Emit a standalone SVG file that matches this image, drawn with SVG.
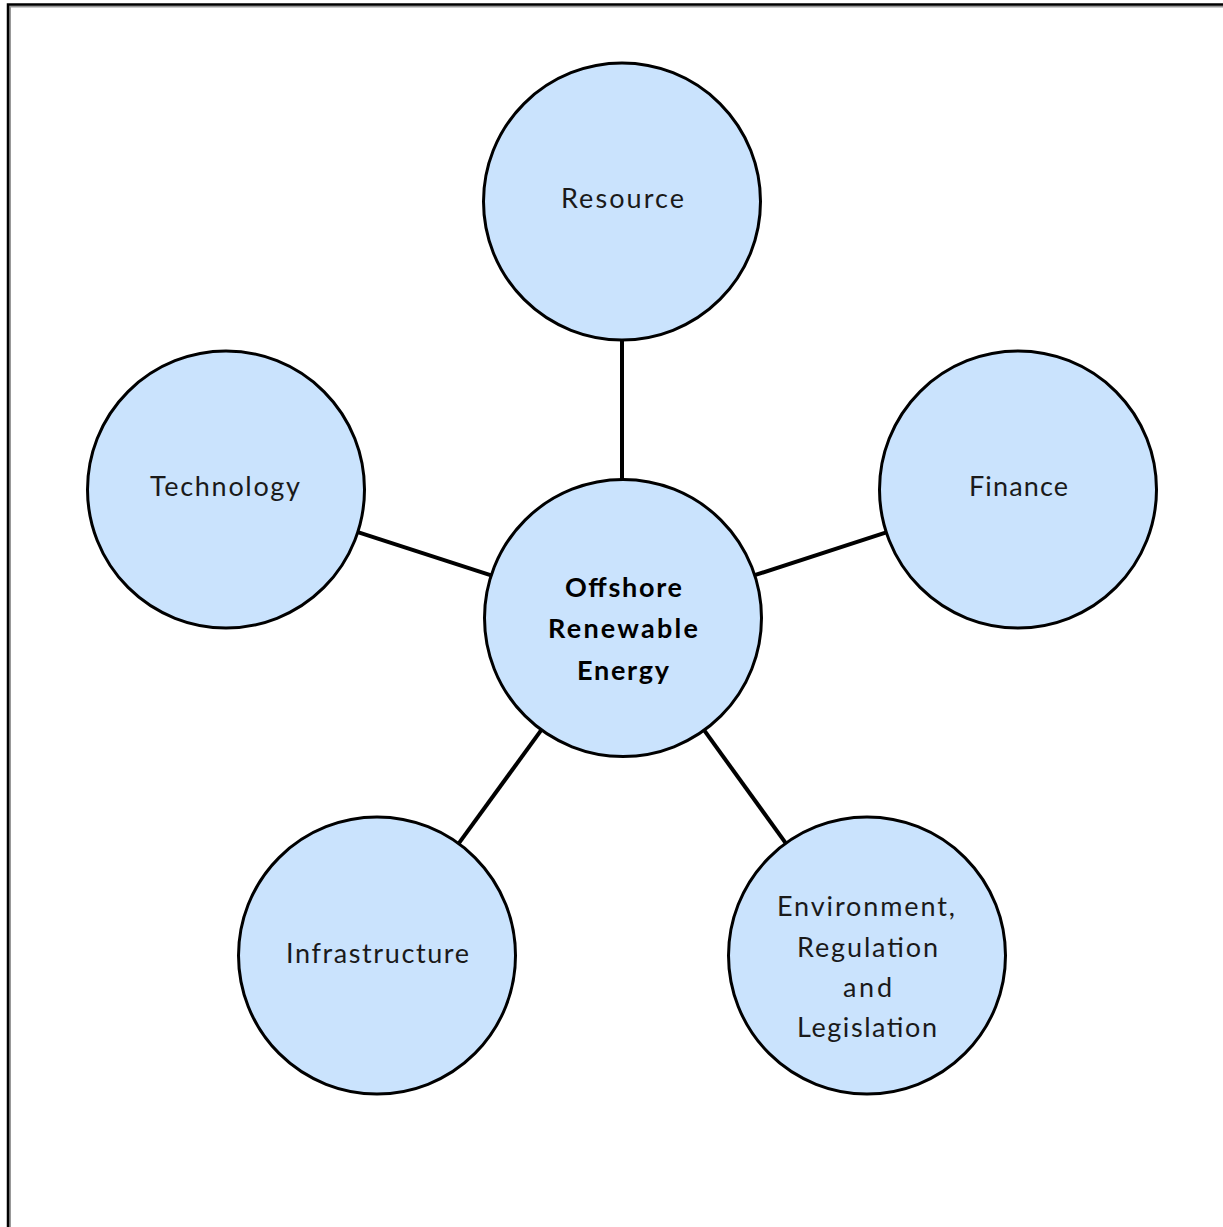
<svg xmlns="http://www.w3.org/2000/svg" width="1223" height="1227" viewBox="0 0 1223 1227">
<style>
.node{fill:#CAE3FD;stroke:#000;stroke-width:3}
.conn{stroke:#000;stroke-width:4;fill:none}
.lbl{font-family:Lato,"Open Sans","Liberation Sans",sans-serif;font-size:27px;fill:#1a1a1a;text-anchor:middle}
.bold{font-weight:bold;fill:#000}
</style>
<rect x="0" y="0" width="1223" height="1227" fill="#fff"/>
<g id="frame">
<path d="M10 1240 V6.5 H1240" fill="none" stroke="#999" stroke-width="2"/>
<path d="M8 1240 V4.5 H1240" fill="none" stroke="#000" stroke-width="2.5"/>
</g>
<g id="connectors">
<line class="conn" x1="622" y1="340" x2="622" y2="479.5"/>
<line class="conn" x1="357.8" y1="532.1" x2="491.2" y2="575.4"/>
<line class="conn" x1="886.3" y1="532.3" x2="754.7" y2="575.2"/>
<line class="conn" x1="458.6" y1="843.6" x2="541.4" y2="729.9"/>
<line class="conn" x1="785.9" y1="843.3" x2="704.1" y2="730.2"/>
</g>
<g id="node-resource">
<circle class="node" cx="622" cy="201.5" r="138.5"/>
<text class="lbl" x="622.5" y="208" textLength="123" lengthAdjust="spacing">Resource</text>
</g>
<g id="node-technology">
<circle class="node" cx="226" cy="489.5" r="138.5"/>
<text class="lbl" x="225" y="496" textLength="150" lengthAdjust="spacing">Technology</text>
</g>
<g id="node-finance">
<circle class="node" cx="1018" cy="489.5" r="138.5"/>
<text class="lbl" x="1018.5" y="496" textLength="99" lengthAdjust="spacing">Finance</text>
</g>
<g id="node-center">
<circle class="node" cx="623" cy="618" r="138.5"/>
<text class="lbl bold" x="623.5" y="597" textLength="117" lengthAdjust="spacing">Offshore</text>
<text class="lbl bold" x="623" y="638" textLength="150" lengthAdjust="spacing">Renewable</text>
<text class="lbl bold" x="623" y="680" textLength="92" lengthAdjust="spacing">Energy</text>
</g>
<g id="node-infrastructure">
<circle class="node" cx="377" cy="955.5" r="138.5"/>
<text class="lbl" x="377.5" y="963" textLength="183" lengthAdjust="spacing">Infrastructure</text>
</g>
<g id="node-environment">
<circle class="node" cx="867" cy="955.5" r="138.5"/>
<text class="lbl" x="866" y="916" textLength="178" lengthAdjust="spacing">Environment,</text>
<text class="lbl" x="867.5" y="957" textLength="141" lengthAdjust="spacing">Regulation</text>
<text class="lbl" x="867.5" y="997" textLength="49" lengthAdjust="spacing">and</text>
<text class="lbl" x="867" y="1037" textLength="140" lengthAdjust="spacing">Legislation</text>
</g>
</svg>
